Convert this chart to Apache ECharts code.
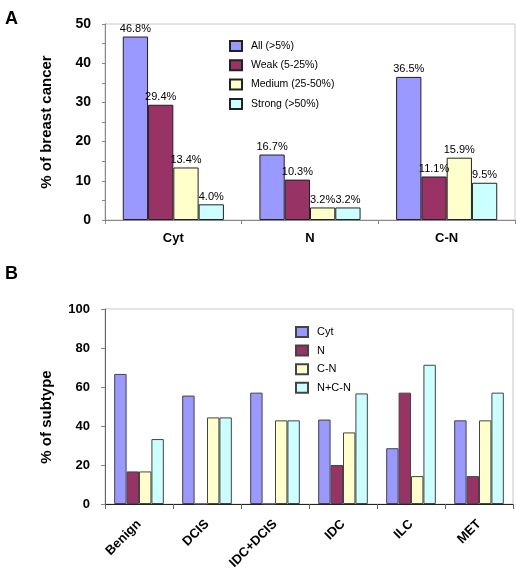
<!DOCTYPE html>
<html>
<head>
<meta charset="utf-8">
<script src="https://cdn.jsdelivr.net/npm/echarts@6/dist/echarts.min.js"></script>
<style>
html,body{margin:0;padding:0;background:#fff;}
#c{width:516px;height:575px;}
</style>
</head>
<body>
<div id="c"></div>
<script>
// Panel A data
var catsA = ['Cyt', 'N', 'C-N'];
var namesA = ['All (>5%)', 'Weak (5-25%)', 'Medium (25-50%)', 'Strong (>50%)'];
var allA = [46.8, 16.7, 36.5];
var weakA = [29.4, 10.3, 11.1];
var mediumA = [13.4, 3.2, 15.9];
var strongA = [4.0, 3.2, 9.5];
var ticksA = [0, 10, 20, 30, 40, 50];

// Panel B data
var catsB = ['Benign', 'DCIS', 'IDC+DCIS', 'IDC', 'ILC', 'MET'];
var namesB = ['Cyt', 'N', 'C-N', 'N+C-N'];
var cytB = [66.7, 55.6, 57.1, 43.3, 28.6, 42.9];
var nB = [16.7, 0, 0, 20.0, 57.1, 14.3];
var cnB = [16.7, 44.4, 42.9, 36.7, 14.3, 42.9];
var ncnB = [33.3, 44.4, 42.9, 56.7, 71.4, 57.1];
var ticksB = [0, 20, 40, 60, 80, 100];

var colors = ['#9999FF', '#993366', '#FFFFCC', '#CCFFFF'];
var FONT = 'Liberation Sans, Arial, sans-serif';

var chart = echarts.init(document.getElementById('c'), null, {renderer: 'canvas'});

function barA(name, data, ci) {
  return {
    name: name, type: 'bar', xAxisIndex: 0, yAxisIndex: 0, data: data,
    barGap: '0%', barCategoryGap: '26%',
    itemStyle: {color: colors[ci], borderColor: '#222', borderWidth: 1},
    label: {show: true, position: 'top', distance: 2, color: '#000', fontSize: 11, fontFamily: FONT,
      formatter: function (p) { return p.value.toFixed(1) + '%'; }},
    animation: false
  };
}
function barB(name, data, ci) {
  return {
    name: name, type: 'bar', xAxisIndex: 1, yAxisIndex: 1, data: data,
    barGap: '0%', barCategoryGap: '27%',
    itemStyle: {color: colors[ci], borderColor: '#444', borderWidth: 1},
    animation: false
  };
}

var option = {
  animation: false,
  textStyle: {fontFamily: FONT},
  grid: [
    {left: 105, top: 24, width: 410, height: 196, show: true, borderColor: '#c8c8c8', borderWidth: 1, backgroundColor: 'transparent'},
    {left: 105, top: 309, width: 408, height: 195, show: true, borderColor: '#c8c8c8', borderWidth: 1, backgroundColor: 'transparent'}
  ],
  xAxis: [
    {type: 'category', gridIndex: 0, data: catsA,
      axisLine: {lineStyle: {color: '#888'}},
      axisTick: {show: true, length: 4, lineStyle: {color: '#888'}},
      axisLabel: {color: '#000', fontSize: 13, fontWeight: 'bold', fontFamily: FONT, margin: 12}},
    {type: 'category', gridIndex: 1, data: catsB,
      axisLine: {lineStyle: {color: '#222'}},
      axisTick: {show: true, length: 5, lineStyle: {color: '#666'}},
      axisLabel: {color: '#000', fontSize: 13, fontWeight: 'bold', fontFamily: FONT, rotate: 45, margin: 18, interval: 0}}
  ],
  yAxis: [
    {type: 'value', gridIndex: 0, min: ticksA[0], max: ticksA[ticksA.length - 1], interval: 10,
      splitLine: {show: false},
      axisLine: {show: true, lineStyle: {color: '#888'}},
      axisTick: {show: true, length: 3, lineStyle: {color: '#888'}},
      minorTick: {show: true, splitNumber: 2, length: 3, lineStyle: {color: '#888'}},
      axisLabel: {color: '#000', fontSize: 14, fontWeight: 'bold', fontFamily: FONT, margin: 14}},
    {type: 'value', gridIndex: 1, min: ticksB[0], max: ticksB[ticksB.length - 1], interval: 20,
      splitLine: {show: false},
      axisLine: {show: true, lineStyle: {color: '#666'}},
      axisTick: {show: true, length: 4, lineStyle: {color: '#888'}},
      axisLabel: {color: '#000', fontSize: 13, fontWeight: 'bold', fontFamily: FONT, margin: 15}}
  ],
  legend: [
    {data: namesA, orient: 'vertical', left: 224, top: 35, itemWidth: 12, itemHeight: 10, itemGap: 7.3,
      icon: 'rect', selectedMode: false,
      textStyle: {color: '#000', fontSize: 10.5, fontFamily: FONT, padding: [0, 0, 0, 4]}},
    {data: namesB, orient: 'vertical', left: 290, top: 321, itemWidth: 12, itemHeight: 10, itemGap: 6.6,
      icon: 'rect', selectedMode: false,
      textStyle: {color: '#000', fontSize: 11, fontFamily: FONT, padding: [0, 0, 0, 4]}}
  ],
  graphic: [
    {type: 'text', left: 5, top: 10, style: {text: 'A', font: 'bold 18px ' + FONT, fill: '#000'}},
    {type: 'text', left: 5, top: 265, style: {text: 'B', font: 'bold 18px ' + FONT, fill: '#000'}},
    {type: 'text', x: 47, y: 122, rotation: Math.PI / 2,
      style: {text: '% of breast cancer', font: 'bold 15px ' + FONT, fill: '#000', align: 'center', verticalAlign: 'middle'}},
    {type: 'text', x: 47, y: 417, rotation: Math.PI / 2,
      style: {text: '% of subtype', font: 'bold 15px ' + FONT, fill: '#000', align: 'center', verticalAlign: 'middle'}}
  ],
  series: [
    barA(namesA[0], allA, 0), barA(namesA[1], weakA, 1), barA(namesA[2], mediumA, 2), barA(namesA[3], strongA, 3),
    barB(namesB[0], cytB, 0), barB(namesB[1], nB, 1), barB(namesB[2], cnB, 2), barB(namesB[3], ncnB, 3)
  ]
};
chart.setOption(option);
</script>
</body>
</html>
